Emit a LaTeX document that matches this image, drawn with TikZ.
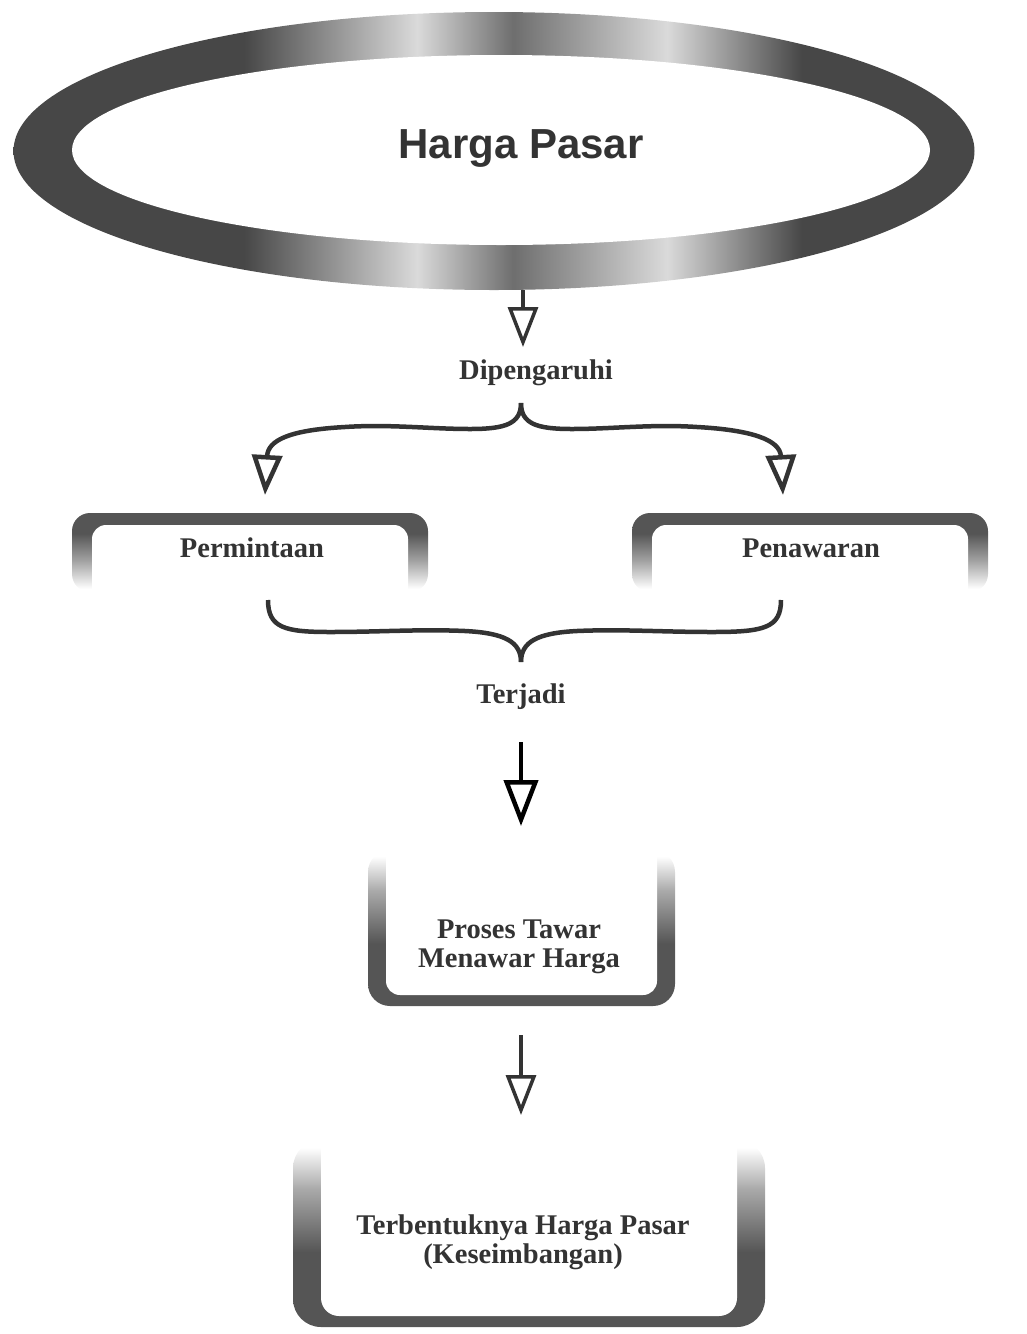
\documentclass[tikz,border=0pt]{standalone}
\usepackage{fontspec}
\setmainfont{Liberation Serif}
\newfontfamily\headfont{Liberation Sans}
\usetikzlibrary{arrows.meta,shapes.geometric}

\definecolor{ringdark}{HTML}{474747}
\definecolor{ringmid}{HTML}{6E6E6E}
\definecolor{ringlight}{HTML}{DADADA}
\definecolor{framegray}{HTML}{555555}
\definecolor{inkgray}{HTML}{333333}

\pgfdeclarehorizontalshading{ringshade}{100bp}{color(0bp)=(ringdark); color(25bp)=(ringdark);
  color(37bp)=(ringdark); color(46bp)=(ringlight); color(51bp)=(ringmid);
  color(59bp)=(ringlight); color(66bp)=(ringdark); color(100bp)=(ringdark)}
\pgfdeclareverticalshading{fadedown}{100bp}{color(0bp)=(white); color(27bp)=(white);
  color(45bp)=(framegray!55); color(62bp)=(framegray); color(100bp)=(framegray)}
\pgfdeclareverticalshading{fadeup}{100bp}{color(0bp)=(framegray); color(45bp)=(framegray);
  color(62bp)=(framegray!50); color(73bp)=(white); color(100bp)=(white)}

\tikzset{
  title/.style={font=\headfont\bfseries\fontsize{42}{44}\selectfont, text=inkgray},
  label/.style={font=\bfseries\fontsize{28.5}{29}\selectfont, text=inkgray, align=center},
  brace/.style={draw=inkgray, line width=4.5pt},
  flow/.style={draw=inkgray, line width=3.5pt, -{Triangle[open, length=40pt, width=30pt]}},
}

\begin{document}
\begin{tikzpicture}[x=1pt, y=-1pt]
  \useasboundingbox (0,0) rectangle (1026,1334);

  % ring
  \node[ellipse, inner sep=0pt, minimum width=961pt, minimum height=278pt, shade, shading=ringshade] (ring) at (494,151) {};
  \node[ellipse, inner sep=0pt, minimum width=858pt, minimum height=190pt, fill=white] (hole) at (501,150) {};
  \node[title] (harga) at (521,148) {Harga Pasar};

  % frames
  \shade[shading=fadedown, rounded corners=18pt] (72,513) rectangle (428,592);
  \fill[white, rounded corners=14pt] (92,525) rectangle (408,610);
  \shade[shading=fadedown, rounded corners=18pt] (632,513) rectangle (988,592);
  \fill[white, rounded corners=14pt] (652,525) rectangle (968,610);
  \shade[shading=fadeup, rounded corners=22pt] (368,850) rectangle (675,1006);
  \fill[white, rounded corners=14pt] (386,830) rectangle (657,995);
  \shade[shading=fadeup, rounded corners=28pt] (293,1140) rectangle (765,1327);
  \fill[white, rounded corners=18pt] (321,1120) rectangle (737,1316);

  % texts
  \node[label] (dip) at (536,373) {Dipengaruhi};
  \node[label] (perm) at (252,548) {Permintaan};
  \node[label] (pen) at (811,548) {Penawaran};
  \node[label] (terj) at (521,697) {Terjadi};
  \node[label] (proses) at (519,947) {Proses Tawar\\Menawar Harga};
  \node[label] (terb) at (523,1242) {Terbentuknya Harga Pasar\\(Keseimbangan)};

  % anchor points
  \coordinate (dip-in) at (523,347);
  \coordinate (dip-out) at (521,403);
  \coordinate (perm-in) at (265,495);
  \coordinate (pen-in) at (783,495);
  \coordinate (perm-out) at (268,600);
  \coordinate (pen-out) at (781,600);
  \coordinate (terj-in) at (521,662);
  \coordinate (terj-out) at (521,742);
  \coordinate (proses-in) at (521,826);
  \coordinate (proses-out) at (521,1035);
  \coordinate (terb-in) at (521,1115);

  % arrows
  \draw[flow] (dip-in |- ring.south) -- (dip-in);
  \draw[brace, -{Triangle[open, length=40pt, width=30pt]}] (dip-out) .. controls (521,424) and (505,429) .. (470,429)
    .. controls (430,429) and (390,424) .. (345,427) .. controls (290,430) and (268,440) .. (perm-in);
  \draw[brace, -{Triangle[open, length=40pt, width=30pt]}] (dip-out) .. controls (521,424) and (537,429) .. (572,429)
    .. controls (612,429) and (652,424) .. (697,427) .. controls (752,430) and (780,440) .. (pen-in);
  \draw[brace] (perm-out) .. controls (268,628) and (285,632) .. (330,632)
    .. controls (380,632) and (420,629) .. (465,631) .. controls (505,633) and (521,642) .. (terj-in);
  \draw[brace] (pen-out) .. controls (781,628) and (764,632) .. (712,632)
    .. controls (662,632) and (622,629) .. (577,631) .. controls (537,633) and (521,642) .. (terj-in);
  \draw[flow, draw=black, line width=4.5pt, -{Triangle[open, length=46pt, width=34pt]}] (terj-out) -- (proses-in);
  \draw[flow] (proses-out) -- (terb-in);
\end{tikzpicture}
\end{document}
